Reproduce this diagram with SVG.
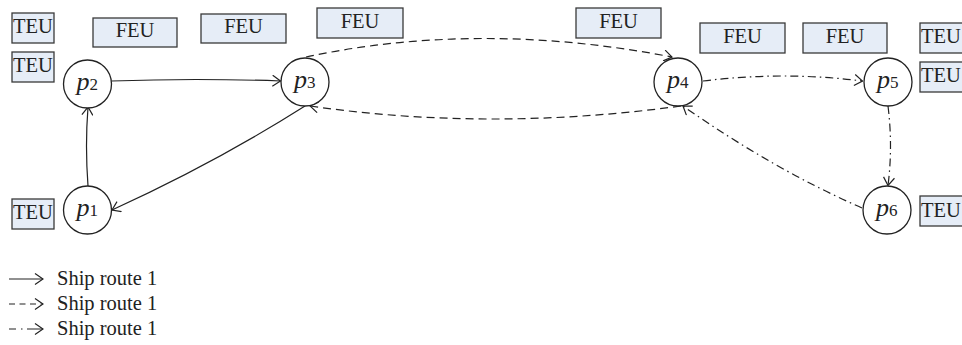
<svg xmlns="http://www.w3.org/2000/svg" width="962" height="345" viewBox="0 0 962 345">
<defs>
<style>
.box{fill:#e6edf7;stroke:#3a3a3a;stroke-width:1.3}
.bt{font-family:"Liberation Serif",serif;font-size:20.5px;fill:#222}
.node{fill:#fff;stroke:#222;stroke-width:1.3}
.pl{font-family:"Liberation Serif",serif;font-size:26px;font-style:italic;fill:#222}
.sub{font-size:17px;font-style:normal}
.c{fill:none;stroke:#222;stroke-width:1.2;marker-end:url(#ah)}
.dash{stroke-dasharray:8 5}
.dd{stroke-dasharray:8 4 1.5 4}
.lg{font-family:"Liberation Serif",serif;font-size:20.5px;fill:#222}
</style>
<marker id="ah" viewBox="0 0 10 12" refX="9" refY="6" markerWidth="10" markerHeight="12" markerUnits="userSpaceOnUse" orient="auto">
<path d="M1,0.5 L9,6 L1,11.5" fill="none" stroke="#222" stroke-width="1.2" stroke-dasharray="none"/>
</marker>
</defs>

<g id="containers">
<g id="teu-l1"><rect class="box" x="12" y="13" width="42" height="30"/><text class="bt" x="33" y="33" text-anchor="middle">TEU</text></g>
<g id="teu-l2"><rect class="box" x="12" y="52" width="42" height="30"/><text class="bt" x="33" y="72" text-anchor="middle">TEU</text></g>
<g id="feu-1"><rect class="box" x="93" y="18" width="84" height="29"/><text class="bt" x="135" y="37" text-anchor="middle">FEU</text></g>
<g id="feu-2"><rect class="box" x="201" y="14" width="85" height="29"/><text class="bt" x="243.5" y="33" text-anchor="middle">FEU</text></g>
<g id="feu-3"><rect class="box" x="317" y="8" width="86" height="30"/><text class="bt" x="360" y="28" text-anchor="middle">FEU</text></g>
<g id="feu-4"><rect class="box" x="576" y="8" width="85" height="30"/><text class="bt" x="618.5" y="28" text-anchor="middle">FEU</text></g>
<g id="feu-5"><rect class="box" x="700" y="23" width="85" height="30"/><text class="bt" x="742.5" y="43" text-anchor="middle">FEU</text></g>
<g id="feu-6"><rect class="box" x="803" y="23" width="84" height="30"/><text class="bt" x="845" y="43" text-anchor="middle">FEU</text></g>
<g id="teu-r1"><rect class="box" x="920" y="23" width="44" height="30"/><text class="bt" x="921" y="43">TEU</text></g>
<g id="teu-r2"><rect class="box" x="920" y="62" width="44" height="30"/><text class="bt" x="921" y="82">TEU</text></g>
<g id="teu-p1"><rect class="box" x="12" y="199" width="42" height="30"/><text class="bt" x="33" y="219" text-anchor="middle">TEU</text></g>
<g id="teu-p6"><rect class="box" x="920" y="196" width="44" height="30"/><text class="bt" x="921" y="217">TEU</text></g>
</g>

<g id="connectors">
<path class="c" d="M88,186 Q85,146 88,107"/>
<path class="c" d="M111.5,81 Q196,78 280.5,81"/>
<path class="c" d="M305,106 Q215,163 112,210"/>
<path class="c dash" d="M306,57 Q480,20 672,57"/>
<path class="c dash" d="M681,106 Q490,132 310,106"/>
<path class="c dd" d="M703,81 Q783,71 862.5,81"/>
<path class="c dd" d="M888,106 Q893,146 888,185.5"/>
<path class="c dd" d="M862,208 Q773,169 683,106"/>
</g>

<g id="p1"><circle class="node" cx="87.5" cy="210" r="24"/><text class="pl" x="76.5" y="216">p<tspan class="sub">1</tspan></text></g>
<g id="p2"><circle class="node" cx="87.5" cy="84" r="24"/><text class="pl" x="76.5" y="90">p<tspan class="sub">2</tspan></text></g>
<g id="p3"><circle class="node" cx="305" cy="82" r="24"/><text class="pl" x="294" y="88">p<tspan class="sub">3</tspan></text></g>
<g id="p4"><circle class="node" cx="678" cy="82" r="24"/><text class="pl" x="667" y="88">p<tspan class="sub">4</tspan></text></g>
<g id="p5"><circle class="node" cx="888" cy="82" r="24"/><text class="pl" x="877" y="88">p<tspan class="sub">5</tspan></text></g>
<g id="p6"><circle class="node" cx="887" cy="210" r="24"/><text class="pl" x="876" y="216">p<tspan class="sub">6</tspan></text></g>

<g id="legend">
<path class="c" d="M9,279 L43,279"/>
<text class="lg" x="57" y="285">Ship route 1</text>
<path class="c" d="M9,304 L43,304" style="stroke-dasharray:6 4.5"/>
<text class="lg" x="57" y="310">Ship route 1</text>
<path class="c" d="M9,329 L43,329" style="stroke-dasharray:7 5 1.5 4.5 20"/>
<text class="lg" x="57" y="335">Ship route 1</text>
</g>
</svg>
